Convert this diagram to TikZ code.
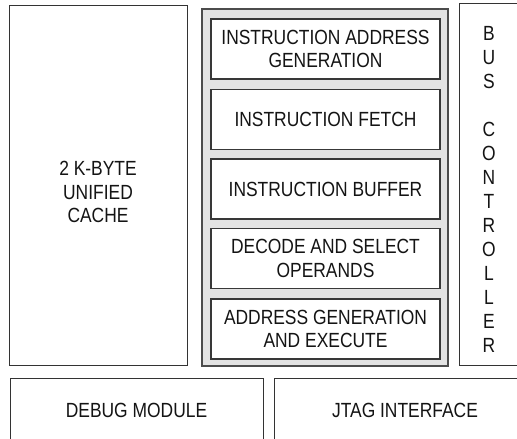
\documentclass[tikz,border=0pt]{standalone}
\usepackage{fontspec}
\newfontfamily\lab[FakeStretch=0.85]{Liberation Sans}
\begin{document}
\begin{tikzpicture}[x=1pt,y=-1pt,
  txt/.style={font=\lab\fontsize{20.5}{23.5}\selectfont, text=black!92, align=center, inner sep=0pt},
  box/.style={txt, draw=black!80, line width=1pt, fill=white, rectangle},
  stage/.style={box, line width=1.4pt, draw=black!78, minimum width=229pt, minimum height=60pt},
  frame/.style={rectangle, draw=black!70, line width=2pt, fill=gray!22, inner sep=0pt}]
\useasboundingbox (0,0) rectangle (517,439);
\clip (0,0) rectangle (517,439);
\fill[white] (0,0) rectangle (517,439);
% cache
\node[box, minimum width=178pt, minimum height=360pt] (cache) at (98,185) {};
\node[txt] (cachetext) at (98,192) {2 K-BYTE\\UNIFIED\\CACHE};
% pipeline frame
\node[frame, minimum width=246pt, minimum height=357pt] (pipe) at (325,187.5) {};
\node[stage] (s1) at (325.5,49) {INSTRUCTION ADDRESS\\GENERATION};
\node[stage] (s2) at (325.5,119.5) {INSTRUCTION FETCH};
\node[stage] (s3) at (325.5,189) {INSTRUCTION BUFFER};
\node[stage] (s4) at (325.5,258.5) {DECODE AND SELECT\\OPERANDS};
\node[stage] (s5) at (325.5,329) {ADDRESS GENERATION\\AND EXECUTE};
% bus controller
\node[box, minimum width=60pt, minimum height=362pt] (bus) at (489,184) {};
\node[txt, font=\lab\fontsize{20.5}{24}\selectfont] (bustext) at (489,189) {B\\U\\S\\\phantom{C}\\C\\O\\N\\T\\R\\O\\L\\L\\E\\R};
% bottom row
\node[box, minimum width=253pt, minimum height=64pt] (debug) at (136.5,410) {DEBUG MODULE};
\node[box, minimum width=262pt, minimum height=64pt] (jtag) at (405,410) {JTAG INTERFACE};
\end{tikzpicture}
\end{document}
